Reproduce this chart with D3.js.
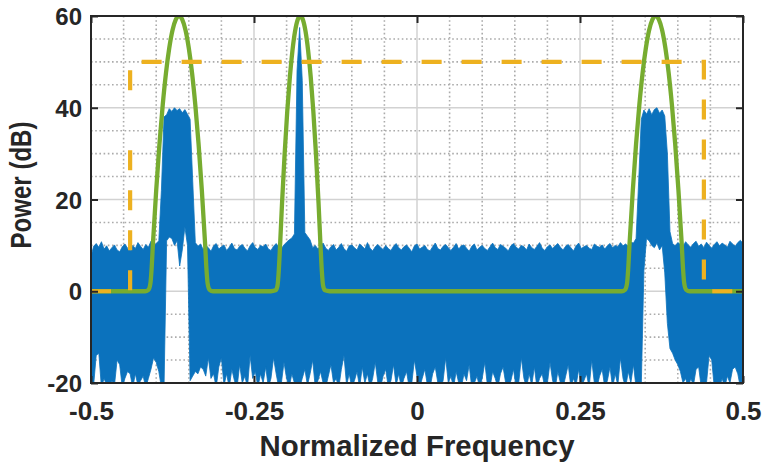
<!DOCTYPE html>
<html><head><meta charset="utf-8">
<script src="https://cdn.jsdelivr.net/npm/d3@7"></script>
<style>
body{margin:0;background:#fff}
svg{display:block}
text{font-family:"Liberation Sans",Arial,Helvetica,sans-serif;font-weight:bold;fill:#262626}
</style>
</head><body>
<svg id="chart" width="763" height="467"></svg>
<script>
// ---- Data ----
const binStart = -0.5;
const binStep = 0.004;
const spectrumUpper = [
  7.5, 9.8, 10.4, 9.6, 10.8, 9.2, 9.9, 8.8, 9.5, 10.1,
  9.0, 8.6, 9.7, 10.3, 9.4, 8.9, 10.0, 9.3, 10.6, 9.8,
  9.1, 10.2, 9.6, 10.9, 9.9, 10.4, 11.0, 22, 38, 38.5,
  39.8, 39.2, 40, 39.4, 39.8, 38.9, 39.6, 38.6, 37.5, 24,
  10.6, 9.8, 10.3, 9.1, 10.0, 9.5, 8.7, 9.9, 10.4, 9.2,
  9.7, 10.1, 8.9, 9.6, 10.5, 9.3, 9.0, 9.8, 10.2, 9.4,
  8.8, 9.9, 10.6, 9.5, 9.1, 10.0, 9.7, 10.3, 9.2, 8.9,
  9.8, 10.4, 9.6, 9.3, 10.1, 10.7, 11.2, 11.6, 12.5, 48,
  57.5, 46, 12.8, 12, 11.2, 9.5, 10.0, 9.2, 9.8, 10.5,
  9.4, 8.9, 9.7, 10.2, 9.0, 9.6, 10.4, 9.3, 8.7, 9.9,
  10.1, 9.5, 9.0, 10.3, 9.8, 9.2, 10.6, 9.4, 8.8, 9.7,
  10.2, 9.6, 9.1, 10.0, 9.3, 8.9, 9.8, 10.4, 9.5, 9.0,
  9.7, 10.1, 9.4, 8.6, 9.9, 10.3, 9.2, 9.6, 10.0, 9.1,
  8.8, 9.7, 10.5, 9.3, 9.0, 9.8, 10.2, 9.5, 8.9, 9.6,
  10.4, 9.2, 9.9, 10.1, 9.4, 8.7, 9.8, 10.3, 9.0, 9.6,
  10.0, 9.3, 8.9, 9.7, 10.5, 9.5, 9.1, 10.2, 9.8, 9.4,
  8.8, 9.9, 10.4, 9.6, 9.2, 10.0, 9.7, 9.0, 10.3, 9.5,
  9.1, 9.8, 10.6, 9.4, 8.9, 9.7, 10.1, 9.3, 9.9, 10.4,
  9.6, 9.0, 9.8, 10.2, 9.5, 8.8, 9.9, 10.5, 9.3, 9.7,
  10.0, 9.4, 9.1, 10.3, 9.8, 9.6, 10.1, 9.2, 9.9, 10.4,
  9.5, 10.0, 9.7, 10.6, 9.9, 10.3, 9.8, 10.7, 10.5, 11.5,
  24, 37.5, 39.5, 38.6, 39.8, 38.5, 39.6, 40, 38.8, 39.5,
  38.2, 30, 13, 10.4, 9.9, 10.6, 10.2, 9.7, 10.8, 10.1,
  9.6, 10.4, 10.9, 9.8, 10.3, 9.5, 10.7, 10.0, 9.4, 10.2,
  10.8, 9.9, 10.5, 10.1, 9.6, 10.9, 10.3, 9.8, 10.6, 11.1,
  10.4
];
const spectrumLower = [
  -19.5, -20.5, -14, -13.5, -21, -19, -20.5, -21, -19.5, -20.5,
  -15, -16, -21, -19, -17.5, -18, -21, -18, -20.5, -19.5,
  -18.5, -21, -19, -17, -14.5, -15.5, -17.5, -21, -21, 11,
  11.8, 11.5, 10, 11, 5.5, 9, 14, 10, -19.5, -18.5,
  -17.5, -18, -16.5, -17, -18.5, -14.5, -19, -18, -21, -16.5,
  -14.5, -20.5, -18, -21, -17, -19.5, -21, -16, -20, -18.5,
  -21, -14, -19, -17.5, -21, -18, -20, -16.5, -21, -19,
  -14.5, -18, -21, -20, -15.5, -19, -21, -18, -20, -21,
  -21, -19, -17, -20.5, -18, -15, -21, -19.5, -17.5, -20,
  -21, -18.5, -16, -20, -19, -21, -17, -14, -20.5, -18,
  -21, -19.5, -17.5, -21, -16.5, -20, -18, -21, -19, -15.5,
  -20, -21, -18.5, -17, -21, -19.5, -16, -20.5, -18, -21,
  -19, -17.5, -21, -20, -15, -18.5, -21, -19, -17, -20.5,
  -21, -18, -16.5, -20, -21, -19.5, -14.5, -20, -18.5, -21,
  -17.5, -20, -21, -18, -19.5, -16, -21, -20, -18.5, -21,
  -19, -15.5, -20.5, -21, -17.5, -19, -21, -18, -16.5, -20,
  -21, -19.5, -17, -21, -20, -14.5, -19, -21, -18, -20.5,
  -16.5, -21, -19, -18, -21, -20, -15.5, -19.5, -21, -17.5,
  -20, -21, -18.5, -16, -21, -19, -20.5, -17, -21, -19.5,
  -18, -21, -15, -20, -21, -18.5, -17, -21, -19.5, -16.5,
  -21, -18, -20.5, -14.5, -19, -21, -17.5, -20, -16, -21,
  -21, -20.5, 4.5, 11.5, 11, 10, 9.5, 10.5, 9, 10,
  4, -7, -12.5, -13.5, -15, -16, -17.5, -20, -19, -21,
  -19, -20.5, -17, -16.5, -21, -20, -20, -14, -15, -21,
  -20.5, -21, -19, -21, -18.5, -20, -17, -16.5, -18, -21,
  -20
];
const maskCurveFreq = [
  -0.5, -0.417, -0.412, -0.409, -0.407, -0.405, -0.400, -0.395, -0.390, -0.385, -0.380, -0.375, -0.370,
  -0.365, -0.360, -0.355, -0.350, -0.345, -0.340, -0.335, -0.330, -0.325, -0.323, -0.321, -0.318, -0.313,
  -0.224, -0.217, -0.214, -0.212, -0.210, -0.207, -0.203, -0.199, -0.195, -0.191, -0.187, -0.183,
  -0.179, -0.175, -0.171, -0.167, -0.163, -0.159, -0.155, -0.151, -0.148, -0.146, -0.144, -0.141, -0.134,
  0.314, 0.319, 0.322, 0.324, 0.326, 0.331, 0.336, 0.341, 0.346, 0.351, 0.356, 0.361,
  0.366, 0.371, 0.376, 0.381, 0.386, 0.391, 0.396, 0.401, 0.406, 0.408, 0.410, 0.413, 0.418, 0.5
];
const maskCurvePower = [
  0, 0, 0.3, 1.6, 5, 10.4, 22, 32.1, 40.6, 47.6, 53, 56.9, 59.2,
  60, 59.2, 56.9, 53, 47.6, 40.6, 32.1, 22, 10.4, 5, 1.6, 0.3, 0,
  0, 0.2, 1.2, 4.5, 10, 19.2, 30, 39.2, 46.7, 52.5, 56.7, 59.2,
  60, 59.2, 56.7, 52.5, 46.7, 39.2, 30, 19.2, 10, 4.5, 1.2, 0.2, 0,
  0, 0.3, 1.6, 5, 10.4, 22, 32.1, 40.6, 47.6, 53, 56.9, 59.2,
  60, 59.2, 56.9, 53, 47.6, 40.6, 32.1, 22, 10.4, 5, 1.6, 0.3, 0, 0
];
const limitFreq = [-0.5, -0.44, -0.44, 0.44, 0.44, 0.5];
const limitPower = [0, 0, 50, 50, 0, 0];
const xDomain = [-0.5, 0.5];
const yDomain = [-20, 60];
const xTicks = [-0.5, -0.25, 0, 0.25, 0.5];
const xTickLabels = ["-0.5", "-0.25", "0", "0.25", "0.5"];
const yTicks = [-20, 0, 20, 40, 60];
const yTickLabels = ["-20", "0", "20", "40", "60"];
const xMinor = [-0.45, -0.4, -0.35, -0.3, -0.2, -0.15, -0.1, -0.05, 0.05, 0.1, 0.15, 0.2, 0.3, 0.35, 0.4, 0.45];
const yMinor = [-15, -10, -5, 5, 10, 15, 25, 30, 35, 45, 50, 55];
const xLabel = "Normalized Frequency";
const yLabel = "Power (dB)";

// ---- Drawing ----
const L = 91, R = 743, T = 16, B = 383;
const svg = d3.select("#chart");
const x = d3.scaleLinear().domain(xDomain).range([L, R]);
const y = d3.scaleLinear().domain(yDomain).range([B, T]);

svg.append("defs").append("clipPath").attr("id", "plotclip")
  .append("rect").attr("x", L).attr("y", T).attr("width", R - L).attr("height", B - T);

const grid = svg.append("g");
grid.selectAll(".mx").data(xMinor).join("line")
  .attr("x1", d => x(d)).attr("x2", d => x(d)).attr("y1", T).attr("y2", B)
  .attr("stroke", "#ababab").attr("stroke-width", 1.6).attr("stroke-dasharray", "1.6,2.6");
grid.selectAll(".my").data(yMinor).join("line")
  .attr("y1", d => y(d)).attr("y2", d => y(d)).attr("x1", L).attr("x2", R)
  .attr("stroke", "#ababab").attr("stroke-width", 1.6).attr("stroke-dasharray", "1.6,2.6");
grid.selectAll(".gx").data(xTicks.slice(1, -1)).join("line")
  .attr("x1", d => x(d)).attr("x2", d => x(d)).attr("y1", T).attr("y2", B)
  .attr("stroke", "#d2d2d2").attr("stroke-width", 1.5);
grid.selectAll(".gy").data(yTicks.slice(1, -1)).join("line")
  .attr("y1", d => y(d)).attr("y2", d => y(d)).attr("x1", L).attr("x2", R)
  .attr("stroke", "#d2d2d2").attr("stroke-width", 1.5);

const plot = svg.append("g").attr("clip-path", "url(#plotclip)");

const bins = spectrumUpper.map((u, i) => ({ f: binStart + i * binStep, hi: u, lo: spectrumLower[i] }));
plot.append("path").datum(bins)
  .attr("d", d3.area().x(d => x(d.f)).y0(d => y(d.lo)).y1(d => y(d.hi)))
  .attr("fill", "#0b72bd").attr("stroke", "#0b72bd").attr("stroke-width", 0.8);

const mask = maskCurveFreq.map((f, i) => [f, maskCurvePower[i]]);
plot.append("path").datum(mask)
  .attr("d", d3.line().x(d => x(d[0])).y(d => y(d[1])).curve(d3.curveMonotoneX))
  .attr("fill", "none").attr("stroke", "#77ac30").attr("stroke-width", 4.3).attr("stroke-linejoin", "round");

// dash pattern 20/20, with one dash dropped on the left riser as in the reference rendering
const dashPattern = [20, 20, 20, 20, 20, 20, 20, 20, 20, 60];
while (dashPattern.reduce((a, b) => a + b, 0) < 1600) dashPattern.push(20, 20);
const limit = limitFreq.map((f, i) => [f, limitPower[i]]);
plot.append("path").datum(limit)
  .attr("d", d3.line().x(d => x(d[0])).y(d => y(d[1])))
  .attr("fill", "none").attr("stroke", "#edb120").attr("stroke-width", 4.2)
  .attr("stroke-dasharray", dashPattern.join(","));

const axisColor = "#262626";
const ax = svg.append("g");
function styleAxis(g) {
  g.select(".domain").remove();
  g.selectAll(".tick line").attr("stroke", axisColor).attr("stroke-width", 2);
}
ax.append("g").attr("transform", `translate(0,${B})`)
  .call(d3.axisBottom(x).tickValues(xTicks).tickSize(-7).tickFormat((d, i) => xTickLabels[i]))
  .call(styleAxis)
  .call(g => g.selectAll("text").attr("y", 0).attr("dy", 0).attr("transform", "translate(0,37)")
    .attr("font-size", 26).attr("fill", axisColor).attr("font-family", null));
ax.append("g").attr("transform", `translate(0,${T})`)
  .call(d3.axisTop(x).tickValues(xTicks).tickSize(-7).tickFormat(""))
  .call(styleAxis);
ax.append("g").attr("transform", `translate(${L},0)`)
  .call(d3.axisLeft(y).tickValues(yTicks).tickSize(-7).tickFormat((d, i) => yTickLabels[i]))
  .call(styleAxis)
  .call(g => g.selectAll("text").attr("x", -9).attr("dy", "0.36em")
    .attr("font-size", 24).attr("fill", axisColor).attr("font-family", null));
ax.append("g").attr("transform", `translate(${R},0)`)
  .call(d3.axisRight(y).tickValues(yTicks).tickSize(-7).tickFormat(""))
  .call(styleAxis);
ax.append("rect").attr("x", L).attr("y", T).attr("width", R - L).attr("height", B - T)
  .attr("fill", "none").attr("stroke", axisColor).attr("stroke-width", 2);

svg.append("text").attr("x", (L + R) / 2).attr("y", 456).attr("text-anchor", "middle")
  .attr("font-size", 30).attr("textLength", 315).attr("lengthAdjust", "spacingAndGlyphs")
  .text(xLabel);
svg.append("text").attr("transform", "translate(31,185) rotate(-90)").attr("text-anchor", "middle")
  .attr("font-size", 30).attr("textLength", 127).attr("lengthAdjust", "spacingAndGlyphs")
  .text(yLabel);
</script>
</body></html>
